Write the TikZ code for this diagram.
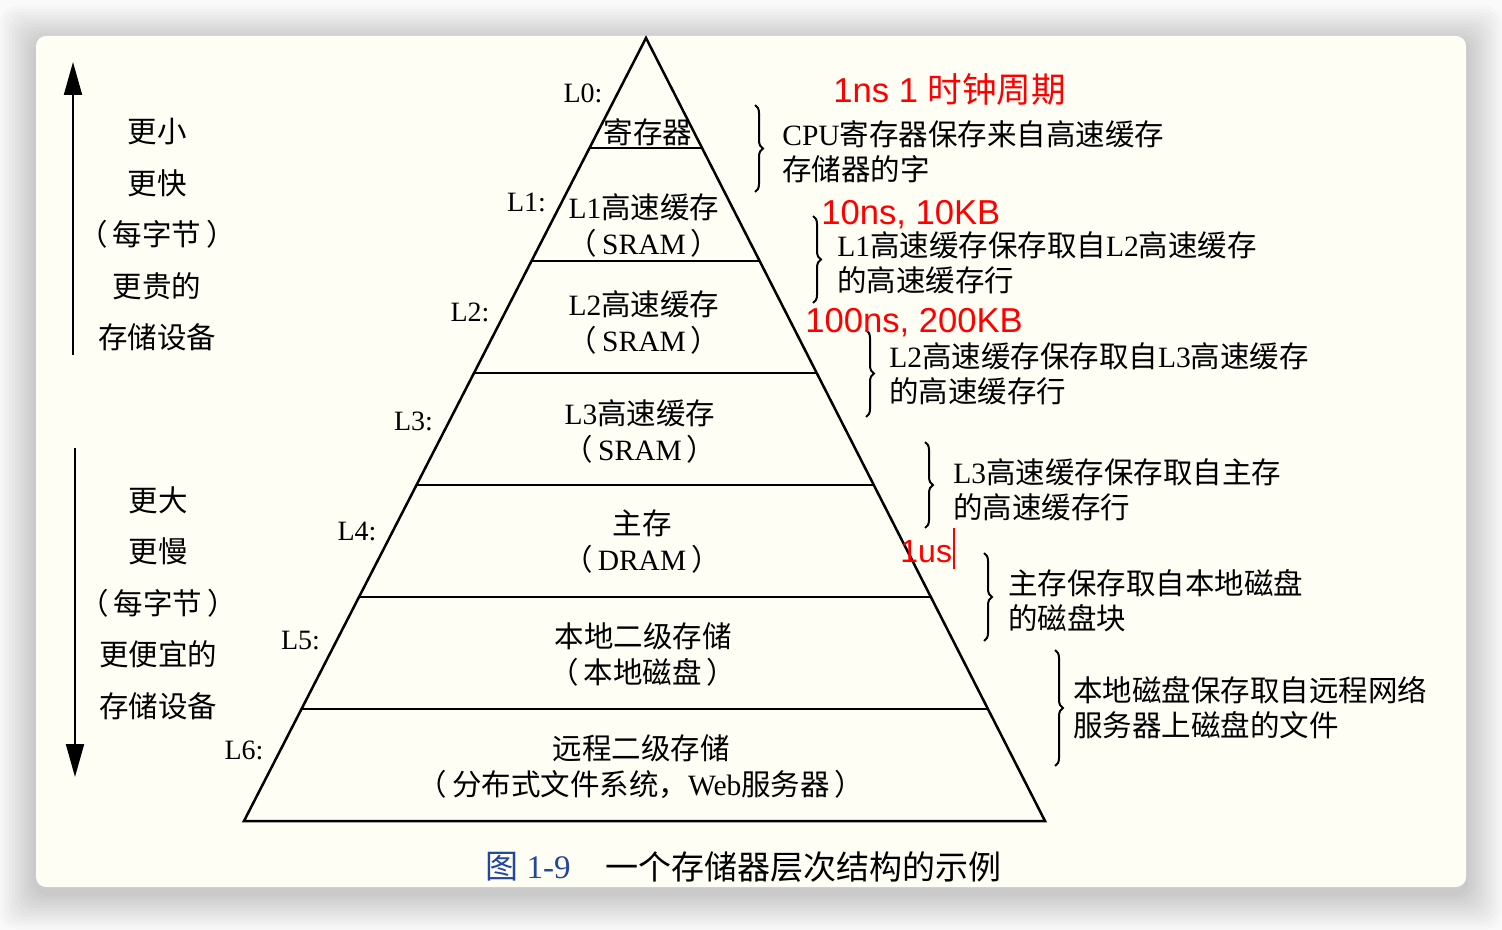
\documentclass[tikz,border=0pt]{standalone}
\usepackage{fontspec}
\setmainfont{Liberation Serif}
\newfontfamily\cjk{Noto Sans CJK SC}
\newfontfamily\rsans{Liberation Sans}
\newcommand{\zh}[1]{{\cjk #1}}
\usetikzlibrary{calc,arrows.meta,decorations.pathreplacing}
\definecolor{outerbg}{HTML}{FAFAFA}
\definecolor{cardbg}{HTML}{FEFEF5}
\definecolor{figblue}{HTML}{23479A}
\definecolor{annred}{HTML}{FF0000}

\begin{document}
\begin{tikzpicture}[x=0.5pt, y=-0.5pt,
  body/.style={inner sep=0pt, align=center, font=\fontsize{14.75}{18}\selectfont},
  lvl/.style={inner sep=0pt, font=\fontsize{14}{16}\selectfont},
  side/.style={inner sep=0pt, align=center, font=\cjk\fontsize{14.75}{25.75}\selectfont},
  note/.style={inner sep=0pt, align=left, anchor=west, font=\fontsize{14.75}{17.5}\selectfont},
  ann/.style={inner sep=0pt, anchor=base west, text=annred, font=\rsans\fontsize{17.3}{20}\selectfont},
  brc/.style={decorate, decoration={brace, amplitude=4pt}, line width=1pt},
  bigarrow/.style={line width=1pt, -{Triangle[width=9pt, length=16.5pt]}}]
\useasboundingbox (0,0) rectangle (1502,930);
\fill[outerbg] (0,0) rectangle (1502,930);
\foreach \i in {1,...,12}
  \fill[black, fill opacity=0.016, rounded corners=8pt] ($(36,36)+(-3*\i,-3*\i+6)$) rectangle ($(1466,887)+(3*\i,3*\i+6)$);
\fill[cardbg, rounded corners=5pt] (36,36) rectangle (1466,887);

\coordinate (apex) at (646,38);
\coordinate (bl) at (244,821);
\coordinate (br) at (1045,821);
\draw[line width=1.25pt] (apex) -- (bl) -- (br) -- cycle;
\foreach \y in {148,261,373,485,597,709}
  \draw[line width=1.25pt] ($(apex)!{(\y-38)/783}!(bl)$) -- ($(apex)!{(\y-38)/783}!(br)$);
\foreach \i in {0,...,6}
  \node[lvl] (L\i) at ({583-56.5*\i},{93+109.5*\i}) {L\i:};

\node[body] (reg) at (648,132) {\zh{寄存器}};
\node[body] (l1) at (644,225.5) {L1\zh{高速缓存}\\\zh{（}\,SRAM\,\zh{）}};
\node[body] (l2) at (644,322.5) {L2\zh{高速缓存}\\\zh{（}\,SRAM\,\zh{）}};
\node[body] (l3) at (640,431.5) {L3\zh{高速缓存}\\\zh{（}\,SRAM\,\zh{）}};
\node[body] (mem) at (642,542) {\zh{主存}\\\zh{（}\,DRAM\,\zh{）}};
\node[body] (disk) at (643,654) {\zh{本地二级存储}\\\zh{（\,本地磁盘\,）}};
\node[body] (remote) at (641,766.5) {\zh{远程二级存储}\\\zh{（\,分布式文件系统，}Web\zh{服务器\,）}};

\coordinate (upS) at (73,355);
\coordinate (upE) at (73,62);
\coordinate (dnS) at (75,448);
\coordinate (dnE) at (75,777);
\draw[bigarrow] (upS) -- (upE);
\draw[bigarrow] (dnS) -- (dnE);
\node[side] (fast) at (157,235) {更小\\更快\\（\,每字节\,）\\更贵的\\存储设备};
\node[side] (slow) at (158,603) {更大\\更慢\\（\,每字节\,）\\更便宜的\\存储设备};

\foreach \n/\x/\a/\b in {1/755/105/192, 2/813/216/303, 3/866/330/417, 4/925/442/528, 5/984/553/641, 6/1055/650/766} {
  \coordinate (b\n t) at (\x,\a);
  \coordinate (b\n b) at (\x,\b);
  \draw[brc] (b\n t) -- (b\n b);
}
\node[note] (n1) at (782,152) {CPU\zh{寄存器保存来自高速缓存}\\\zh{存储器的字}};
\node[note] (n2) at (837,262.5) {L1\zh{高速缓存保存取自}L2\zh{高速缓存}\\\zh{的高速缓存行}};
\node[note] (n3) at (889,374) {L2\zh{高速缓存保存取自}L3\zh{高速缓存}\\\zh{的高速缓存行}};
\node[note] (n4) at (953,490) {L3\zh{高速缓存保存取自主存}\\\zh{的高速缓存行}};
\node[note] (n5) at (1008,601) {\zh{主存保存取自本地磁盘}\\\zh{的磁盘块}};
\node[note] (n6) at (1073,708) {\zh{本地磁盘保存取自远程网络}\\\zh{服务器上磁盘的文件}};

\node[ann] (t0) at (833,103) {1ns 1 \zh{时钟周期}};
\node[ann] (t1) at (821,225) {10ns, 10KB};
\node[ann] (t2) at (805,333) {100ns, 200KB};
\node[ann, font=\rsans\fontsize{16}{20}\selectfont] (t4) at (900,562) {1us};
\coordinate (curT) at (954,528);
\coordinate (curB) at (954,569);
\draw[annred, line width=0.9pt] (curT) -- (curB);

\node[anchor=west, inner sep=0pt, text=figblue, font=\fontsize{16.5}{18}\selectfont] (fignum) at (485,867) {\zh{图} 1-9};
\node[anchor=west, inner sep=0pt, font=\cjk\fontsize{16.5}{18}\selectfont] (figcap) at (605,867) {一个存储器层次结构的示例};
\end{tikzpicture}
\end{document}
